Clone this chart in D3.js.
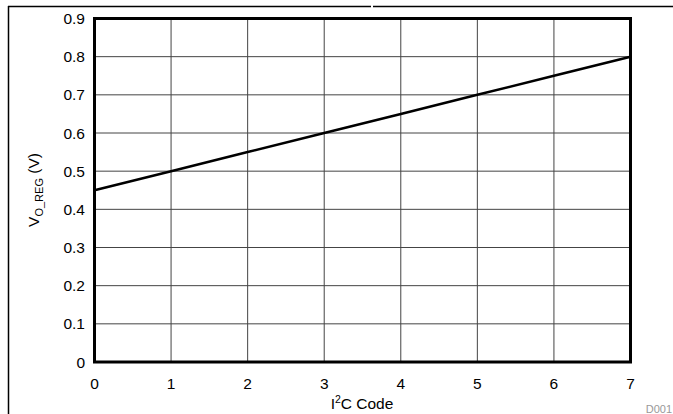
<!DOCTYPE html>
<html>
<head>
<meta charset="utf-8">
<script src="https://d3js.org/d3.v7.min.js"></script>
<style>
  body { margin: 0; background: #fff; }
  text { font-family: "Liberation Sans", Arial, sans-serif; }
</style>
</head>
<body>
<script>
var codes = [0, 1, 2, 3, 4, 5, 6, 7];
var voltages = [0.45, 0.50, 0.55, 0.60, 0.65, 0.70, 0.75, 0.80];
var xTicks = [0, 1, 2, 3, 4, 5, 6, 7];
var yTicks = [0, 0.1, 0.2, 0.3, 0.4, 0.5, 0.6, 0.7, 0.8, 0.9];

var w = 673, h = 414;
var padLeft = 94.5, padRight = 630.5, padTop = 18.5, padBottom = 362;

var svg = d3.select("body").append("svg")
  .attr("width", w)
  .attr("height", h);

// page frame lines
svg.append("line").attr("x1", 8).attr("x2", 371).attr("y1", 6.5).attr("y2", 6.5)
  .attr("stroke", "#000").attr("stroke-width", 1.5);
svg.append("line").attr("x1", 373).attr("x2", 673).attr("y1", 6.5).attr("y2", 6.5)
  .attr("stroke", "#000").attr("stroke-width", 1.5);
svg.append("line").attr("x1", 8.5).attr("x2", 8.5).attr("y1", 6).attr("y2", h)
  .attr("stroke", "#000").attr("stroke-width", 1.5);

var xScale = d3.scaleLinear().domain([0, 7]).range([padLeft, padRight]);
var yScale = d3.scaleLinear().domain([0, 0.9]).range([padBottom, padTop]);

// grid
svg.append("g").selectAll("line").data(xTicks.slice(1, -1)).enter().append("line")
  .attr("x1", function(d) { return xScale(d); })
  .attr("x2", function(d) { return xScale(d); })
  .attr("y1", padTop).attr("y2", padBottom)
  .attr("stroke", "#444").attr("stroke-width", 1);
svg.append("g").selectAll("line").data(yTicks.slice(1, -1)).enter().append("line")
  .attr("y1", function(d) { return yScale(d); })
  .attr("y2", function(d) { return yScale(d); })
  .attr("x1", padLeft).attr("x2", padRight)
  .attr("stroke", "#444").attr("stroke-width", 1);

// data line
var line = d3.line()
  .x(function(d, i) { return xScale(codes[i]); })
  .y(function(d) { return yScale(d); });
svg.append("path").datum(voltages)
  .attr("d", line)
  .attr("fill", "none")
  .attr("stroke", "#000")
  .attr("stroke-width", 2.5);

// frame
svg.append("rect")
  .attr("x", padLeft).attr("y", padTop)
  .attr("width", padRight - padLeft).attr("height", padBottom - padTop)
  .attr("fill", "none").attr("stroke", "#000").attr("stroke-width", 3);

// tick labels
svg.append("g").selectAll("text").data(yTicks).enter().append("text")
  .attr("x", 85)
  .attr("y", function(d) { return yScale(d) + 5.5; })
  .attr("text-anchor", "end")
  .attr("font-size", 15.5)
  .text(function(d) { return d === 0 ? "0" : d3.format(".1f")(d); });

svg.append("g").selectAll("text").data(xTicks).enter().append("text")
  .attr("x", function(d) { return xScale(d); })
  .attr("y", 389)
  .attr("text-anchor", "middle")
  .attr("font-size", 15.5)
  .text(function(d) { return d; });

// axis titles
var xt = svg.append("text")
  .attr("x", 362).attr("y", 409)
  .attr("text-anchor", "middle")
  .attr("font-size", 15.5);
xt.append("tspan").text("I");
xt.append("tspan").attr("dy", -6).attr("font-size", 10.5).text("2");
xt.append("tspan").attr("dy", 6).text("C Code");

var yt = svg.append("text")
  .attr("transform", "translate(39,190) rotate(-90)")
  .attr("text-anchor", "middle")
  .attr("font-size", 15.5);
yt.append("tspan").text("V");
yt.append("tspan").attr("dy", 4).attr("font-size", 11).text("O_REG");
yt.append("tspan").attr("dy", -4).text(" (V)");

svg.append("text")
  .attr("x", 672).attr("y", 413)
  .attr("text-anchor", "end")
  .attr("font-size", 11)
  .attr("fill", "#999")
  .text("D001");
</script>
</body>
</html>
